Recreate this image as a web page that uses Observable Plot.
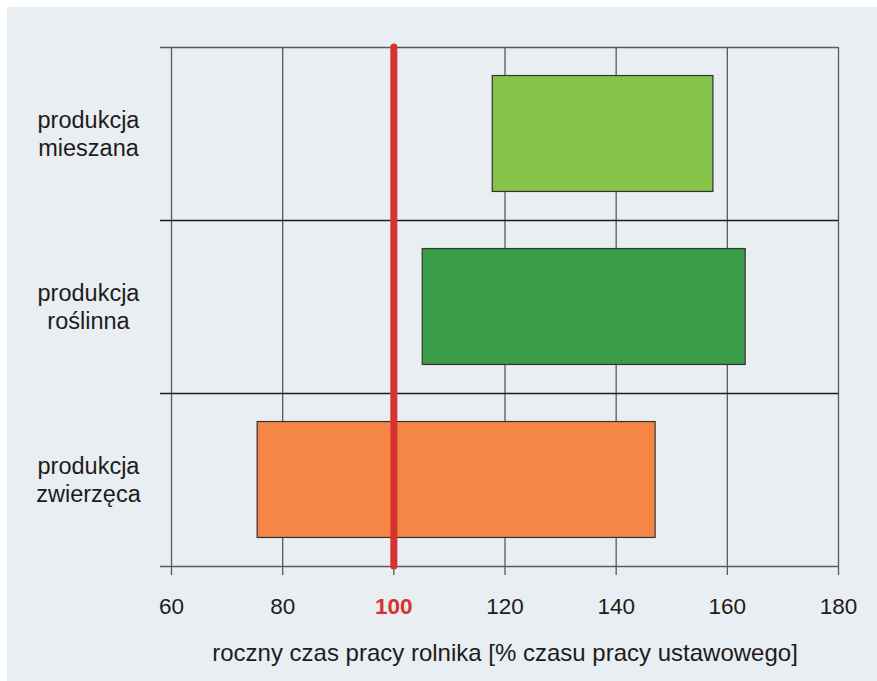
<!DOCTYPE html>
<html>
<head>
<meta charset="utf-8">
<script src="https://cdn.jsdelivr.net/npm/d3@7"></script>
<script src="https://cdn.jsdelivr.net/npm/@observablehq/plot@0.6"></script>
<style>
  html, body { margin: 0; padding: 0; background: #ffffff; }
  #bg { position: absolute; left: 7px; top: 7px; width: 870px; height: 674px; background: #e8eef1; }
  #chart { position: absolute; left: 0; top: 0; }
  #chart svg { background: transparent; }
</style>
</head>
<body>
<div id="bg"></div>
<div id="chart"></div>
<script>
const categories = ["produkcja\nmieszana", "produkcja\nroślinna", "produkcja\nzwierzęca"];
const startValues = [117.8, 105.2, 75.5];
const endValues = [157.5, 163.3, 147.1];
const barColors = ["#86c34b", "#3a9e48", "#f58646"];
const xTicks = [60, 80, 100, 120, 140, 160, 180];
const referenceValue = 100;
const axisLabel = "roczny czas pracy rolnika [% czasu pracy ustawowego]";

const n = categories.length;
const rows = categories.map((c, i) => ({
  category: c,
  pos: n - 1 - i,
  start: startValues[i],
  end: endValues[i],
  color: barColors[i]
}));
const boundaries = d3.range(n + 1);

const textColor = "#1f1b1c";
const font = "'Liberation Sans', Arial, Helvetica, sans-serif";

const chart = Plot.plot({
  width: 877,
  height: 681,
  marginLeft: 171,
  marginRight: 39,
  marginTop: 47,
  marginBottom: 115,
  style: { fontFamily: font, background: "transparent", color: textColor },
  x: { domain: [60, 180], axis: null },
  y: { domain: [0, n], axis: null },
  color: { type: "identity" },
  marks: [
    Plot.ruleX(xTicks, { x: d => d, stroke: "#5a5a5a", strokeWidth: 1.3, insetBottom: -9 }),
    Plot.ruleY(boundaries, {
      y: d => d,
      stroke: d => (d === 0 || d === n) ? "#5a5a5a" : "#1e1e1e",
      strokeWidth: 1.3,
      insetLeft: -11
    }),
    Plot.rectX(rows, {
      x1: "start",
      x2: "end",
      y1: d => d.pos + 0.165,
      y2: d => d.pos + 0.835,
      fill: "color",
      stroke: "#333333",
      strokeWidth: 1.2
    }),
    Plot.ruleX([referenceValue], {
      x: d => d,
      stroke: "#d63230",
      strokeWidth: 7,
      strokeLinecap: "round"
    }),
    Plot.text(rows, {
      y: d => d.pos + 0.5,
      text: "category",
      frameAnchor: "left",
      dx: -83,
      dy: -1,
      textAnchor: "middle",
      lineAnchor: "middle",
      lineHeight: 1.2,
      fontSize: 23.5,
      fill: textColor
    }),
    Plot.text(xTicks.filter(d => d !== referenceValue), {
      x: d => d,
      text: d => String(d),
      frameAnchor: "bottom",
      dy: 40,
      lineAnchor: "middle",
      fontSize: 22.5,
      fill: textColor
    }),
    Plot.text([referenceValue], {
      x: d => d,
      text: d => String(d),
      frameAnchor: "bottom",
      dy: 40,
      lineAnchor: "middle",
      fontSize: 22.5,
      fontWeight: "bold",
      fill: "#d63230"
    }),
    Plot.text([axisLabel], {
      text: d => d,
      frameAnchor: "bottom",
      dy: 87,
      lineAnchor: "middle",
      fontSize: 24,
      fill: textColor
    })
  ]
});
document.getElementById("chart").appendChild(chart);
</script>
</body>
</html>
